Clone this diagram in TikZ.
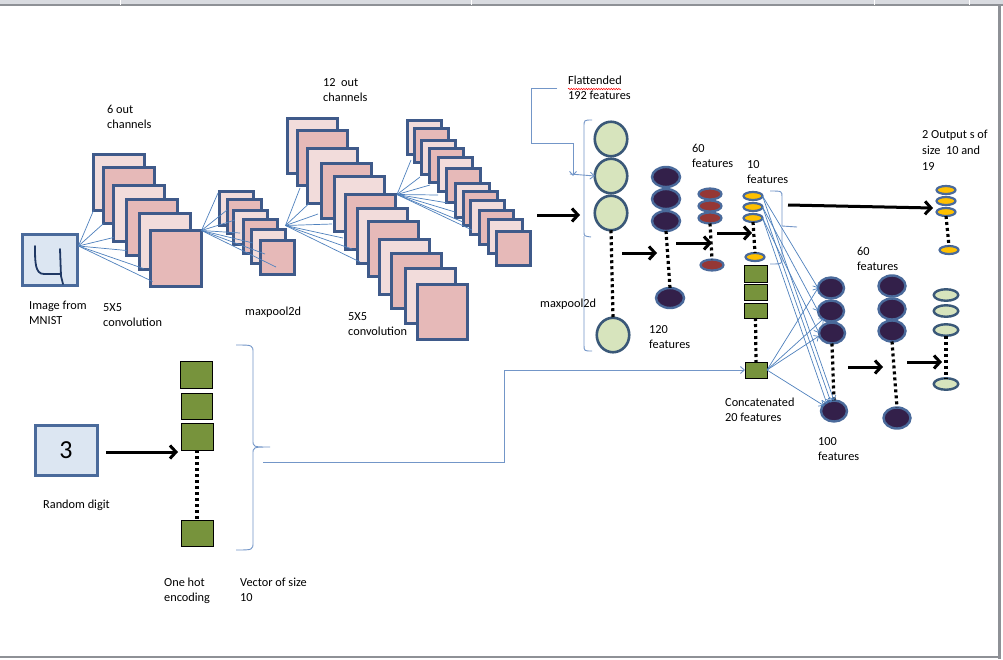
\documentclass[tikz,border=0pt]{standalone}
\usepackage{fontspec}
\setmainfont{Carlito}
\usetikzlibrary{arrows.meta,shapes.geometric,calc,decorations.pathmorphing}
\definecolor{pinkL}{HTML}{F2DCDB}
\definecolor{pinkD}{HTML}{E6B9B8}
\definecolor{sqb}{HTML}{3F5A8A}
\definecolor{fanc}{HTML}{4F81BD}
\definecolor{boxf}{HTML}{DCE6F2}
\definecolor{boxb}{HTML}{4A6A9B}
\definecolor{gfill}{HTML}{D7E4BD}
\definecolor{gdraw}{HTML}{3A5878}
\definecolor{dfill}{HTML}{33204A}
\definecolor{ddraw}{HTML}{4A6A9B}
\definecolor{rfill}{HTML}{953735}
\definecolor{yfill}{HTML}{FFC000}
\definecolor{sqg}{HTML}{77933C}
\definecolor{brc}{HTML}{7396C8}
\definecolor{framec}{HTML}{8E9196}
\definecolor{bandc}{HTML}{D9DBE0}
\definecolor{numc}{HTML}{1F3864}
\begin{document}
\begin{tikzpicture}[x=1pt,y=-1pt,
  fm/.style={draw=sqb, line width=3pt, inner sep=0, outer sep=0, anchor=north west, xshift=1.5pt, yshift=-1.5pt},
  cv1/.style={fm, minimum width=51pt, minimum height=56pt},
  cv2/.style={fm, minimum width=50pt, minimum height=55pt},
  pool/.style={fm, minimum width=34pt, minimum height=34pt},
  lt/.style={fill=pinkL}, dk/.style={fill=pinkD},
  ibox/.style={draw=boxb, fill=boxf, line width=3pt, inner sep=0, anchor=north west, xshift=1.5pt, yshift=-1.5pt},
  fan/.style={draw=fanc, line width=0.7pt},
  fanar/.style={draw=fanc, line width=0.7pt, -{Straight Barb[length=4pt,width=7pt]}},
  brk/.style={draw=brc, line width=0.9pt},
  big/.style={line width=3pt, -{Straight Barb[length=6pt,width=13pt]}},
  dots/.style={line width=3.2pt, dash pattern=on 3pt off 3pt},
  el/.style={ellipse, inner sep=0, outer sep=0},
  gel/.style={el, draw=gdraw, fill=gfill, line width=2.6pt, minimum width=32.5pt, minimum height=34.5pt},
  del/.style={el, draw=ddraw, fill=dfill, line width=2.4pt},
  rel/.style={el, draw=ddraw, fill=rfill, line width=2.2pt, minimum width=23pt, minimum height=11pt},
  yel/.style={el, draw=ddraw, fill=yfill, line width=2.2pt, minimum width=19pt, minimum height=8pt},
  oel/.style={el, draw=gdraw, fill=gfill, line width=2.4pt, minimum width=24.5pt, minimum height=11.5pt},
  gsq/.style={draw=black, fill=sqg, line width=0.8pt, inner sep=0, outer sep=0, anchor=north west},
  lbl/.style={font=\fontsize{12.3}{15}\selectfont, align=left, inner sep=0, anchor=north west}
]
\useasboundingbox (0,0) rectangle (1003,659);
\fill[white] (0,0) rectangle (1003,659);
% window frame
\fill[bandc] (0,0) rectangle (1003,5);
\draw[framec, line width=1.2pt] (0,5) -- (1003,5);
\foreach \t in {120,471,874,969} \draw[white, line width=0.6pt] (\t,0) -- (\t,4.5);
\fill[framec] (998,5) rectangle (1001,659);
\fill[framec] (0,656) rectangle (1001,658);

% input image
\node[ibox, minimum width=55pt, minimum height=51pt] (inbox) at (19,231) {};
\draw[numc, line width=1.8pt, line cap=round, line join=round] (35,246) .. controls (35,262) and (35,274) .. (44,274) -- (60,274);
\draw[numc, line width=1.8pt, line cap=round] (60,249) -- (61,276) -- (63,284);

% conv1 stack
\node[cv1,lt] (c1) at (92,153) {};
\node[cv1,dk] (c2) at (102,166) {};
\node[cv1,lt] (c3) at (112,184) {};
\node[cv1,dk] (c4) at (125,198) {};
\node[cv1,lt] (c5) at (138,212) {};
\node[cv1,dk] (c6) at (149,229) {};

% pool1 stack
\node[pool,lt] (p1) at (218,190) {};
\node[pool,dk] (p2) at (226,198) {};
\node[pool,lt] (p3) at (232,209) {};
\node[pool,dk] (p4) at (242,218) {};
\node[pool,lt] (p5) at (250,228) {};
\node[pool,dk] (p6) at (259,239) {};

% conv2 stack
\node[cv2,lt] (s1) at (286,117) {};
\node[cv2,dk] (s2) at (296,129) {};
\node[cv2,lt] (s3) at (306,147) {};
\node[cv2,dk] (s4) at (320,162) {};
\node[cv2,lt] (s5) at (333,175) {};
\node[cv2,dk] (s6) at (344,193) {};
\node[cv2,lt] (s7) at (356,207) {};
\node[cv2,dk] (s8) at (367,220) {};
\node[cv2,lt] (s9) at (378,238) {};
\node[cv2,dk] (s10) at (390,252) {};
\node[cv2,lt] (s11) at (404,267) {};
\node[cv2,dk] (s12) at (416,283) {};

% pool2 stack
\node[pool,lt] (q1) at (406,119) {};
\node[pool,dk] (q2) at (413,127) {};
\node[pool,lt] (q3) at (420,139) {};
\node[pool,dk] (q4) at (428,147) {};
\node[pool,lt] (q5) at (437,156) {};
\node[pool,dk] (q6) at (445,167) {};
\node[pool,lt] (q7) at (454,182) {};
\node[pool,dk] (q8) at (462,190) {};
\node[pool,lt] (q9) at (469,199) {};
\node[pool,dk] (q10) at (478,209) {};
\node[pool,lt] (q11) at (487,218) {};
\node[pool,dk] (q12) at (495,230) {};

% fans
\coordinate (f1) at ($(inbox.north east)!0.25!(inbox.south east)$);
\draw[fan] (f1) -- (c1.south west);
\draw[fan] (f1) -- (c2.south west);
\draw[fan] (f1) -- ($(c3.south west)+(0,-4)$);
\draw[fan] (f1) -- ($(c4.south west)+(0,-5)$);
\draw[fan] (f1) -- ($(c5.south west)+(4,-1)$);
\draw[fan] (f1) -- ($(c6.south west)+(2,-5)$);

\coordinate (f2) at (c6.north east);
\draw[fan] (f2) -- ($(p1.north west)+(-1.5,1.5)$);
\draw[fan] (f2) -- ($(p2.north west)+(-0.5,10.5)$);
\draw[fan] (f2) -- ($(p3.north west)+(1.5,9.5)$);
\draw[fan] (f2) -- ($(p4.north west)+(-3.5,13.5)$);
\draw[fan] (f2) -- ($(p5.north west)+(1.5,13.5)$);
\draw[fan] (f2) -- ($(p6.north west)+(4.5,13.5)$);
\draw[fan] (f2) -- ($(p6.north west)+(15.5,26.5)$);

\coordinate (f3) at ($(p5.north east)+(0,-4)$);
\draw[fan] (f3) -- ($(s2.south west)+(2.5,2.5)$);
\draw[fan] (f3) -- ($(s3.south west)+(1.5,0)$);
\draw[fan] (f3) -- ($(s4.south west)+(-3.5,-4.5)$);
\draw[fan] (f3) -- ($(s5.south west)+(-2.5,-7.5)$);
\draw[fan] (f3) -- ($(s6.south west)+(-2.5,-11.5)$);
\draw[fan] (f3) -- ($(s7.south west)+(-5.5,-14.5)$);
\draw[fan] (f3) -- ($(s8.south west)+(-8.5,-14.5)$);

\coordinate (f4) at ($(s6.north east)+(1.5,0)$);
\draw[fan] (f4) -- ($(q2.south west)+(-3.5,-2.5)$);
\draw[fan] (f4) -- ($(q3.south west)+(-1.5,2.5)$);
\draw[fan] (f4) -- ($(q4.south west)+(0.5,2.5)$);
\draw[fan] (f4) -- ($(q5.south west)+(-0.5,3.5)$);
\draw[fan] (f4) -- ($(q6.south west)+(1.5,0.5)$);
\draw[fan] (f4) -- ($(q7.south west)+(-0.5,-5.5)$);
\draw[fan] (f4) -- ($(q8.south west)+(-0.5,-3.5)$);
\draw[fan] (f4) -- ($(q9.south west)+(1.5,-4.5)$);

% flattened column
\node[gel] (g1) at (611,139) {};
\node[gel] (g2) at (611,176) {};
\node[gel] (g3) at (611,213) {};
\node[gel] (g4) at (613,335) {};
\draw[dots] (g3.south) -- (g4.north);

\coordinate (a1s) at (537,215); \coordinate (a1e) at (580,215);
\draw[big] (a1s) -- (a1e);

% bracket for 192
\draw[brk] (592,120) .. controls (584,120) .. (584,127) -- (584,232) .. controls (584,236) .. (591,237);
\draw[brk] (584,236) -- (584,345) .. controls (584,351) .. (592,351);

% callout
\draw[brk, -{Straight Barb[length=4pt,width=7pt]}] (557,88) -- (531,88) -- (531,143) -- (573,143) -- (573,176);
\draw[brk, -{Straight Barb[length=4pt,width=7pt]}] (570,174) -- (g2.west);

% 120 column
\node[del, minimum width=28pt, minimum height=20pt] (d1) at (666,177) {};
\node[del, minimum width=28pt, minimum height=20pt] (d2) at (666,199) {};
\node[del, minimum width=28pt, minimum height=20pt] (d3) at (666,221) {};
\node[del, minimum width=28pt, minimum height=20pt] (d4) at (670,298) {};
\draw[dots] (d3.south) -- (d4.north);
\coordinate (a2s) at (622,253); \coordinate (a2e) at (657,253);
\draw[big] (a2s) -- (a2e);

% 60 column
\node[rel] (r1) at (710,194) {};
\node[rel] (r2) at (710,206) {};
\node[rel] (r3) at (710,218) {};
\node[rel] (r4) at (712,265) {};
\draw[dots] (r3.south) -- (r4.north);
\coordinate (a3s) at (676,243); \coordinate (a3e) at (712,243);
\draw[big] (a3s) -- (a3e);

% 10 column
\node[yel] (y1) at (753,196) {};
\node[yel] (y2) at (753,207) {};
\node[yel] (y3) at (753,218) {};
\node[yel] (y4) at (755,257) {};
\draw[dots] (y3.south) -- (y4.north);
\coordinate (a4s) at (717,233); \coordinate (a4e) at (752,233);
\draw[big] (a4s) -- (a4e);

% green squares (concatenated)
\node[gsq, minimum width=23pt, minimum height=17pt] (gA) at (744,265) {};
\node[gsq, minimum width=23pt, minimum height=16pt] (gB) at (744,284) {};
\node[gsq, minimum width=23pt, minimum height=15pt] (gC) at (744,303) {};
\node[gsq, minimum width=22pt, minimum height=16pt] (gD) at (745,362) {};
\draw[dots] (gC.south) -- (gD.north);

% bracket for 10 features and output arrow
\draw[brk] (770,191) .. controls (782,191) .. (782,197) -- (782,226) -- (797,227);
\draw[brk] (782,228) -- (782,258) .. controls (782,264) .. (770,264);
\coordinate (a5s) at (788,205); \coordinate (a5e) at (933,208);
\draw[big] (a5s) -- (a5e);

% output 10
\node[yel] (o1) at (946,190) {};
\node[yel] (o2) at (946,201) {};
\node[yel] (o3) at (946,212) {};
\node[yel] (o4) at (949,250) {};
\draw[dots] (o3.south) -- (o4.north);

% 100 column
\node[del, minimum width=26pt, minimum height=21pt] (k1) at (831,288) {};
\node[del, minimum width=26pt, minimum height=21pt] (k2) at (831,311) {};
\node[del, minimum width=26pt, minimum height=21pt] (k3) at (832,333) {};
\node[del, minimum width=26pt, minimum height=21pt] (k4) at (834,411) {};
\draw[dots] (k3.south) -- (k4.north);

% fans into 100 column
\draw[fanar] (y1.east) -- (k1.west);
\draw[fanar] (y2.east) -- (k2.west);
\draw[fanar] (y3.east) -- (k3.west);
\draw[fanar] (y1.east) -- (k4.north);
\draw[fanar] (y2.east) -- ($(k4.north)+(-3,2)$);
\draw[fanar] (y3.east) -- ($(k4.north west)+(2,0)$);
\draw[fanar] (gD.east) -- (k1.west);
\draw[fanar] (gD.east) -- ($(k2.south west)+(2,0)$);
\draw[fanar] (gD.east) -- ($(k3.west)+(0,3)$);
\draw[fanar] (gD.east) -- ($(k4.north west)+(-1,2)$);

\coordinate (a6s) at (848,367); \coordinate (a6e) at (883,367);
\draw[big] (a6s) -- (a6e);

% 60 column (second)
\node[del, minimum width=27pt, minimum height=21pt] (e1) at (892,286) {};
\node[del, minimum width=27pt, minimum height=21pt] (e2) at (892,309) {};
\node[del, minimum width=27pt, minimum height=21pt] (e3) at (892,331) {};
\node[del, minimum width=27pt, minimum height=21pt] (e4) at (897,418) {};
\draw[dots] (e3.south) -- (e4.north);
\coordinate (a7s) at (907,362); \coordinate (a7e) at (942,362);
\draw[big] (a7s) -- (a7e);

% output 19
\node[oel] (u1) at (946,295) {};
\node[oel] (u2) at (946,311) {};
\node[oel] (u3) at (946,330) {};
\node[oel] (u4) at (946,384) {};
\draw[dots] (u3.south) -- (u4.north);

% random digit branch
\node[ibox, minimum width=62pt, minimum height=50pt, font=\fontsize{26}{26}\selectfont] (dig) at (32,422) {3};
\node[gsq, minimum width=32pt, minimum height=27pt] (h1) at (180,361) {};
\node[gsq, minimum width=31pt, minimum height=26pt] (h2) at (181,393) {};
\node[gsq, minimum width=32pt, minimum height=27pt] (h3) at (181,423) {};
\node[gsq, minimum width=32pt, minimum height=26pt] (h4) at (181,520) {};
\draw[dots] (h3.south) -- (h4.north);
\coordinate (a8s) at (106,452); \coordinate (a8e) at (178,452);
\draw[big] (a8s) -- (a8e);

\draw[brk] (236,345) .. controls (253,345) .. (253,353) -- (253,440) .. controls (253,447) .. (270,447) .. controls (253,447) .. (253,454) -- (253,542) .. controls (253,550) .. (236,550);
\coordinate (cl) at (263,462);
\draw[brk, -{Straight Barb[length=4pt,width=7pt]}] (cl) -- (504,462) |- (gD.west);

% labels
\node[lbl] (t1) at (107,105) {6 out\\channels};
\node[lbl] (t2) at (29,301) {Image from\\MNIST};
\node[lbl] (t3) at (103,303) {5X5\\convolution};
\node[lbl] (t4) at (245,307) {maxpool2d};
\node[lbl] (t5) at (323,78) {12\ \ out\\channels};
\node[lbl] (t6) at (348,312) {5X5\\convolution};
\node[lbl] (t7) at (568,76) {Flattended\\192 features};
\draw[red, line width=0.5pt, decorate, decoration={snake, amplitude=0.7pt, segment length=2.5pt}] (568,89) -- (621,89);
\node[lbl] (t8) at (540,299) {maxpool2d};
\node[lbl] (t9) at (692,144) {60\\features};
\node[lbl] (t10) at (747,160) {10\\features};
\node[lbl] (t11) at (649,325) {120\\features};
\node[lbl, font=\fontsize{12.3}{16}\selectfont] (t12) at (922,130) {2 Output s of\\size\ \ 10 and\\19};
\node[lbl] (t13) at (857,247) {60\\features};
\node[lbl] (t14) at (725,398) {Concatenated\\20 features};
\node[lbl] (t15) at (818,437) {100\\features};
\node[lbl] (t16) at (43,500) {Random digit};
\node[lbl] (t17) at (164,578) {One hot\\encoding};
\node[lbl] (t18) at (240,578) {Vector of size\\10};
\end{tikzpicture}
\end{document}
